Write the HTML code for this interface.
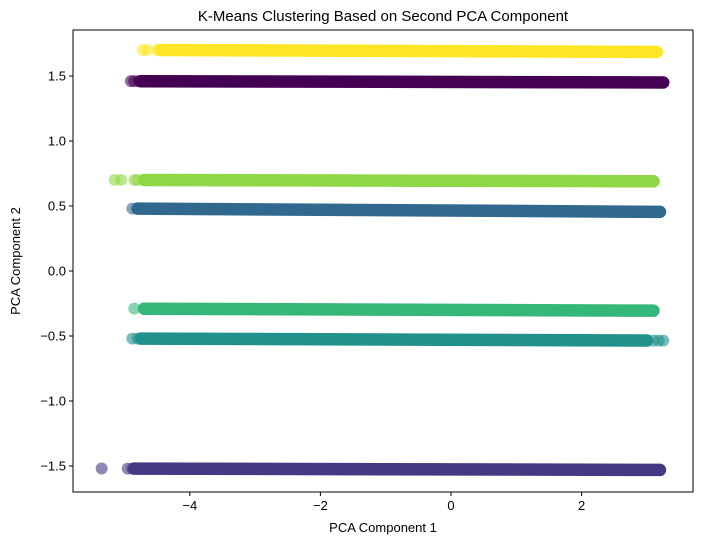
<!DOCTYPE html>
<html><head><meta charset="utf-8"><style>
body{margin:0;background:#fff;font-family:"Liberation Sans","DejaVu Sans",sans-serif}
</style></head><body>
<svg id="c" width="703" height="545" xmlns="http://www.w3.org/2000/svg"></svg>
<script>
const clusterColors=["#fde725","#440154","#8fd744","#31688e","#35b779","#21918c","#443983"];
const yLeft=[1.70,1.46,0.70,0.48,-0.29,-0.52,-1.52];
const yRight=[1.685,1.45,0.69,0.455,-0.305,-0.535,-1.53];
const xMin=[-4.45,-4.75,-4.7,-4.8,-4.7,-4.75,-4.85];
const xMax=[3.15,3.25,3.1,3.2,3.1,3.0,3.2];
const outX=[[-4.72,-4.65,-4.5,-4.45,3.05,3.15],[-4.9,-4.85,-4.78],[-5.15,-5.05,-4.85,-4.8],[-4.88],[-4.85],[-4.88,-4.8,3.1,3.18,3.25],[-5.35,-4.95,-4.88]];
const xTicks=[-4,-2,0,2];
const yTicks=[-1.5,-1.0,-0.5,0.0,0.5,1.0,1.5];
const L=73,R=693,T=30,B=492;
const sx=v=>451+v*65.3;
const sy=v=>271-v*130;
const svg=document.getElementById('c');
const NS="http://www.w3.org/2000/svg";
function mk(t,a,p){const e=document.createElementNS(NS,t);for(const k in a)e.setAttribute(k,a[k]);(p||svg).appendChild(e);return e;}
const title=mk('text',{x:383,y:21,'text-anchor':'middle','font-size':15});
title.textContent="K-Means Clustering Based on Second PCA Component";


for(let i=0;i<clusterColors.length;i++){
  const g=mk('g',{});
  
  
  const slope=(yRight[i]-yLeft[i])/(xMax[i]-xMin[i]);
  const yAt=x=>yLeft[i]+(x-xMin[i])*slope;
  const ln=mk('line',{x1:sx(xMin[i]),y1:sy(yLeft[i]),x2:sx(xMax[i]),y2:sy(yRight[i]),stroke:clusterColors[i],'stroke-width':12.5,'stroke-linecap':'round'},g);
  
  
  for(const x of outX[i]){
    const c=mk('circle',{cx:sx(x),cy:sy(yAt(x)),r:6,fill:clusterColors[i],'fill-opacity':0.6},g);
    
    
  }
}
const frame=mk('rect',{x:L,y:T,width:R-L,height:B-T,fill:'none',stroke:'#000','stroke-width':1});


for(const t of xTicks){
  mk('line',{x1:sx(t),x2:sx(t),y1:B,y2:B+4,stroke:'#000'});
  const tx=mk('text',{x:sx(t),y:B+18,'text-anchor':'middle','font-size':13});
  tx.textContent=(t<0?'\u2212'+(-t):t);
  
  
}
for(const t of yTicks){
  mk('line',{x1:L-4,x2:L,y1:sy(t),y2:sy(t),stroke:'#000'});
  const tx=mk('text',{x:L-7,y:sy(t)+4.5,'text-anchor':'end','font-size':13});
  tx.textContent=(t<0?'\u2212':'')+Math.abs(t).toFixed(1);
  
  
}
const xl=mk('text',{x:383,y:532,'text-anchor':'middle','font-size':13});
xl.textContent="PCA Component 1";


const yl=mk('text',{x:0,y:0,'text-anchor':'middle','font-size':13,transform:'translate(20,261) rotate(-90)'});
yl.textContent="PCA Component 2";


</script>
</body></html>
